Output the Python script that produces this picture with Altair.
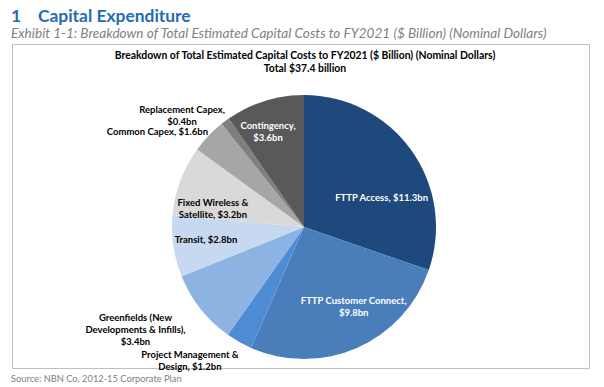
import altair as alt
import pandas as pd

categories = [
    "FTTP Access",
    "FTTP Customer Connect",
    "Project Management & Design",
    "Greenfields (New Developments & Infills)",
    "Transit",
    "Fixed Wireless & Satellite",
    "Common Capex",
    "Replacement Capex",
    "Contingency",
]
values = [11.3, 9.8, 1.2, 3.4, 2.8, 3.2, 1.6, 0.4, 3.6]
labels = [
    "FTTP Access, $11.3bn",
    "FTTP Customer Connect,\n$9.8bn",
    "Project Management &\nDesign, $1.2bn",
    "Greenfields (New\nDevelopments & Infills),\n$3.4bn",
    "Transit, $2.8bn",
    "Fixed Wireless &\nSatellite, $3.2bn",
    "Common Capex, $1.6bn",
    "Replacement Capex,\n$0.4bn",
    "Contingency,\n$3.6bn",
]
colors = ["#1F497D", "#4A7EBB", "#4F8CD6", "#8DB3E2", "#C6D9F1",
          "#D9D9D9", "#A6A6A6", "#7F7F7F", "#595959"]

# label layout: (radius, dx, dy, text colour)
label_layout = [
    (83, 10, 19, "white"),
    (89, 14, -8, "white"),
    (171, -30, -21, "black"),
    (192, -18, -28, "black"),
    (99, 0, -2, "black"),
    (94, -3, 9, "black"),
    (175, -20, 26, "black"),
    (169, -21, 19, "black"),
    (107, -4, 1, "white"),
]

FONT = "Lato"
CX, CY, R = 292, 183, 132

df = pd.DataFrame({
    "category": categories,
    "value": values,
    "label": labels,
    "idx": list(range(len(categories))),
})

pie = alt.Chart(df).mark_arc(outerRadius=R, strokeWidth=0).encode(
    theta=alt.Theta("value:Q", stack=True),
    color=alt.Color("category:N", scale=alt.Scale(domain=categories, range=colors), legend=None),
    order=alt.Order("idx:Q"),
    x=alt.value(CX),
    y=alt.value(CY),
)

base = (
    alt.Chart(df)
    .transform_joinaggregate(total="sum(value)")
    .transform_window(cum="sum(value)", sort=[alt.SortField("idx")])
    .transform_calculate(mid="(datum.cum - datum.value / 2) / datum.total * 2 * PI")
)

label_layers = []
for i, (r, dx, dy, col) in enumerate(label_layout):
    label_layers.append(
        base.transform_filter(alt.datum.idx == i)
        .mark_text(font=FONT, fontSize=9.5, fontWeight="bold", color=col,
                   align="center", baseline="middle", lineBreak="\n",
                   lineHeight=12, dx=dx, dy=dy)
        .encode(
            theta=alt.Theta("mid:Q", scale=None),
            radius=alt.value(r),
            text="label:N",
            x=alt.value(CX),
            y=alt.value(CY),
        )
    )

one = pd.DataFrame({"a": [0]})


def txt(t, x, y, **kw):
    return alt.Chart(one).mark_text(text=t, font=FONT, **kw).encode(
        x=alt.value(x), y=alt.value(y))


heading_num = txt("1", -1, -22, fontSize=17.4, fontWeight="bold", color="#1F6CB5",
                  align="left", baseline="alphabetic")
heading = txt("Capital Expenditure", 26, -22, fontSize=17.4, fontWeight="bold",
              color="#1F6CB5", align="left", baseline="alphabetic")
subtitle = txt("Exhibit 1-1: Breakdown of Total Estimated Capital Costs to FY2021 ($ Billion) (Nominal Dollars)",
               -1, -10, fontSize=13.6, fontStyle="italic", color="#7F7F7F",
               align="left", baseline="middle")
inner1 = txt("Breakdown of Total Estimated Capital Costs to FY2021 ($ Billion) (Nominal Dollars)",
             293, 12, fontSize=10.4, fontWeight="bold", color="black",
             align="center", baseline="middle")
inner2 = txt("Total $37.4 billion", 293, 25, fontSize=10.4, fontWeight="bold",
             color="black", align="center", baseline="middle")
source = txt("Source: NBN Co, 2012-15 Corporate Plan", -1, 335, fontSize=9.3,
             color="#808080", align="left", baseline="middle")

chart = alt.layer(
    pie, *label_layers, heading_num, heading, subtitle, inner1, inner2, source
).properties(
    width=577,
    height=324,
    autosize=alt.AutoSizeParams(type="none"),
    padding={"left": 4, "top": 36, "right": 7, "bottom": 16},
).configure_view(
    stroke="#BFBFBF", strokeWidth=1
)

chart.save("out.html", embed_options={"renderer": "svg", "actions": False})
